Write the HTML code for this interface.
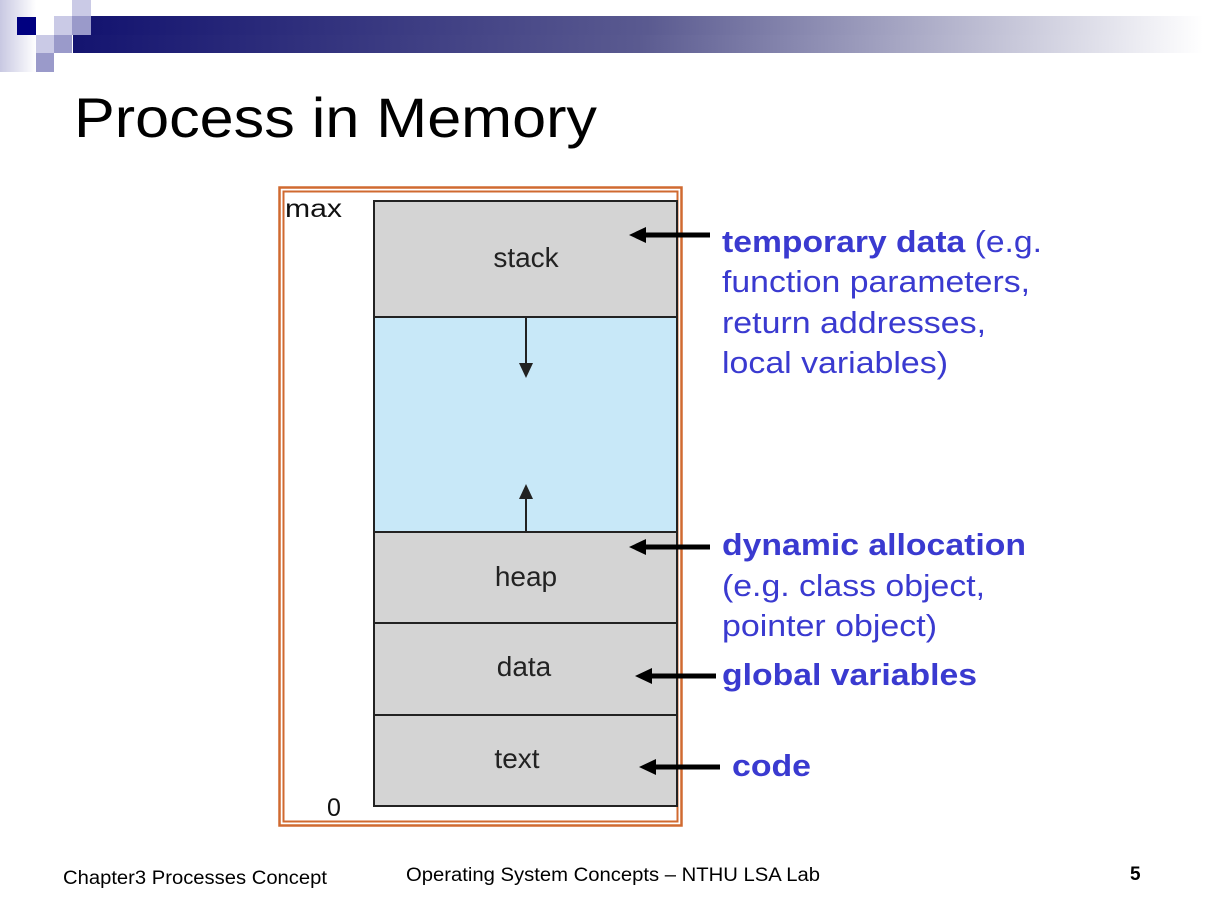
<!DOCTYPE html>
<html><head><style>
body{margin:0;width:1214px;height:910px;background:#fff;overflow:hidden;font-family:"Liberation Sans",sans-serif}
</style></head><body>
<svg width="1214" height="910" xmlns="http://www.w3.org/2000/svg">
<defs>
<linearGradient id="bar" x1="0" x2="1"><stop offset="0" stop-color="#141470"/><stop offset="0.5" stop-color="#5a5a90"/><stop offset="1" stop-color="#fff"/></linearGradient>
<linearGradient id="lg" x1="0" x2="1"><stop offset="0" stop-color="#c8c8e2"/><stop offset="1" stop-color="#fff"/></linearGradient>
</defs>
<rect x="0" y="0" width="36" height="72" fill="url(#lg)"/>
<rect x="73" y="35" width="1130" height="18" fill="url(#bar)"/>
<rect x="91" y="16" width="1112" height="19" fill="url(#bar)"/>
<rect x="17" y="17" width="19" height="18" fill="#000080"/>
<rect x="54" y="16" width="18" height="19" fill="#cacae6"/>
<rect x="72" y="0" width="19" height="16" fill="#cacae6"/>
<rect x="72" y="16" width="19" height="19" fill="#9a9aca"/>
<rect x="36" y="35" width="18" height="18" fill="#cacae6"/>
<rect x="54" y="35" width="18" height="18" fill="#9a9aca"/>
<rect x="36" y="53" width="18" height="19" fill="#9a9aca"/>
<text x="74" y="137" font-size="56" fill="#000" textLength="523" lengthAdjust="spacingAndGlyphs">Process in Memory</text>
<rect x="279.5" y="187.5" width="402" height="638" fill="none" stroke="#d06a30" stroke-width="2.5"/>
<rect x="283.5" y="191.5" width="394" height="630" fill="none" stroke="#d06a30" stroke-width="2"/>
<g stroke="#222" stroke-width="2">
<rect x="374" y="201" width="303" height="116" fill="#d4d4d4"/>
<rect x="374" y="317" width="303" height="215" fill="#c8e8f8"/>
<rect x="374" y="532" width="303" height="91" fill="#d4d4d4"/>
<rect x="374" y="623" width="303" height="92" fill="#d4d4d4"/>
<rect x="374" y="715" width="303" height="91" fill="#d4d4d4"/>
<line x1="526" y1="317" x2="526" y2="366"/>
<line x1="526" y1="532" x2="526" y2="496"/>
</g>
<polygon points="519,363 533,363 526,378" fill="#222"/>
<polygon points="519,499 533,499 526,484" fill="#222"/>
<g font-size="28" fill="#222" text-anchor="middle">
<text x="526" y="267">stack</text><text x="526" y="586">heap</text><text x="524" y="676">data</text><text x="517" y="768">text</text>
</g>
<text x="285" y="217" font-size="25" fill="#111" textLength="57" lengthAdjust="spacingAndGlyphs">max</text>
<text x="327" y="816" font-size="25" fill="#111">0</text>
<g stroke="#000" stroke-width="5">
<line x1="642" y1="235" x2="710" y2="235"/><line x1="642" y1="547" x2="710" y2="547"/>
<line x1="648" y1="676" x2="716" y2="676"/><line x1="652" y1="767" x2="720" y2="767"/>
</g>
<g fill="#000">
<polygon points="629,235 646,227 646,243"/><polygon points="629,547 646,539 646,555"/>
<polygon points="635,676 652,668 652,684"/><polygon points="639,767 656,759 656,775"/>
</g>
<g font-size="31" fill="#3a3ad0" lengthAdjust="spacingAndGlyphs">
<text x="722" y="252" textLength="320" lengthAdjust="spacingAndGlyphs"><tspan font-weight="bold">temporary data</tspan> (e.g.</text>
<text x="722" y="292" textLength="308" lengthAdjust="spacingAndGlyphs">function parameters,</text>
<text x="722" y="333" textLength="264" lengthAdjust="spacingAndGlyphs">return addresses,</text>
<text x="722" y="373" textLength="226" lengthAdjust="spacingAndGlyphs">local variables)</text>
<text x="722" y="555" font-weight="bold" textLength="304" lengthAdjust="spacingAndGlyphs">dynamic allocation</text>
<text x="722" y="596" textLength="263" lengthAdjust="spacingAndGlyphs">(e.g. class object,</text>
<text x="722" y="636" textLength="215" lengthAdjust="spacingAndGlyphs">pointer object)</text>
<text x="722" y="685" font-weight="bold" textLength="255" lengthAdjust="spacingAndGlyphs">global variables</text>
<text x="732" y="776" font-weight="bold" textLength="79" lengthAdjust="spacingAndGlyphs">code</text>
</g>
<text x="63" y="884" font-size="19" fill="#000" textLength="264" lengthAdjust="spacingAndGlyphs">Chapter3 Processes Concept</text>
<text x="406" y="881" font-size="19" fill="#000" textLength="414" lengthAdjust="spacingAndGlyphs">Operating System Concepts – NTHU LSA Lab</text>
<text x="1130" y="880" font-size="19" font-weight="bold" fill="#000">5</text>
</svg>
</body></html>
